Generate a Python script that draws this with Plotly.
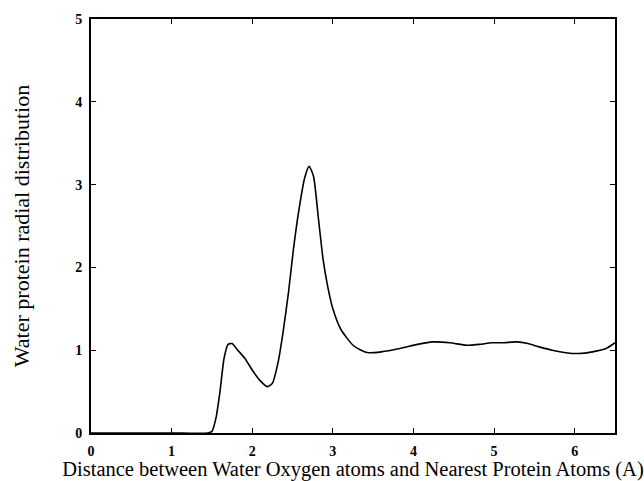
import plotly.graph_objects as go

distance = [0.0, 0.5, 1.0, 1.45, 1.5, 1.55, 1.6, 1.65, 1.7, 1.75, 1.82, 1.91, 2.0, 2.1, 2.19, 2.25,
            2.32, 2.38, 2.45, 2.51, 2.58, 2.65, 2.705, 2.76, 2.82, 2.88, 2.94, 3.0, 3.1,
            3.25, 3.35, 3.44, 3.6, 3.83, 4.05, 4.24, 4.45, 4.66, 4.82, 4.97, 5.12, 5.28,
            5.42, 5.56, 5.72, 5.89, 6.05, 6.22, 6.39, 6.5]
rdf = [0.0, 0.0, 0.0, 0.0, 0.02, 0.18, 0.5, 0.9, 1.07, 1.08, 1.0, 0.9, 0.76, 0.63, 0.56, 0.6,
       0.85, 1.2, 1.7, 2.21, 2.7, 3.08, 3.22, 3.1, 2.6, 2.09, 1.75, 1.5, 1.25,
       1.06, 1.0, 0.97, 0.98, 1.02, 1.07, 1.1, 1.09, 1.06, 1.07, 1.09, 1.09, 1.10,
       1.08, 1.04, 1.0, 0.97, 0.96, 0.98, 1.02, 1.09]

x_ticks = [0, 1, 2, 3, 4, 5, 6]
y_ticks = [0, 1, 2, 3, 4, 5]

fig = go.Figure()
fig.add_trace(go.Scatter(x=distance, y=rdf, mode="lines",
                         line=dict(color="black", width=1.6, shape="spline", smoothing=0.6),
                         showlegend=False, hoverinfo="skip"))

axis_common = dict(showgrid=False, zeroline=False, showline=True, linecolor="black", linewidth=2,
                   mirror="ticks", ticks="inside", ticklen=5, tickwidth=1.2, tickcolor="black",
                   automargin=False,
                   tickfont=dict(family="Liberation Serif", size=14, color="black"))

fig.update_xaxes(range=[0, 6.5], tickvals=x_ticks, ticktext=[f"<b>{t}</b>" for t in x_ticks],
                 ticklabelstandoff=4,
                 title=dict(text="Distance between Water Oxygen atoms and Nearest Protein Atoms (A)",
                            font=dict(family="Liberation Serif", size=20.5, color="black"), standoff=1),
                 **axis_common)
fig.update_yaxes(range=[0, 5], tickvals=y_ticks, ticktext=[f"<b>{t}</b>" for t in y_ticks],
                 ticklabelstandoff=4,
                 title=dict(text="Water protein radial distribution",
                            font=dict(family="Liberation Serif", size=22, color="black"), standoff=40),
                 **axis_common)

fig.update_layout(width=644, height=481, plot_bgcolor="white", paper_bgcolor="white",
                  margin=dict(l=91, r=29, t=19, b=48), autosize=False)

fig.write_html("out.html")
